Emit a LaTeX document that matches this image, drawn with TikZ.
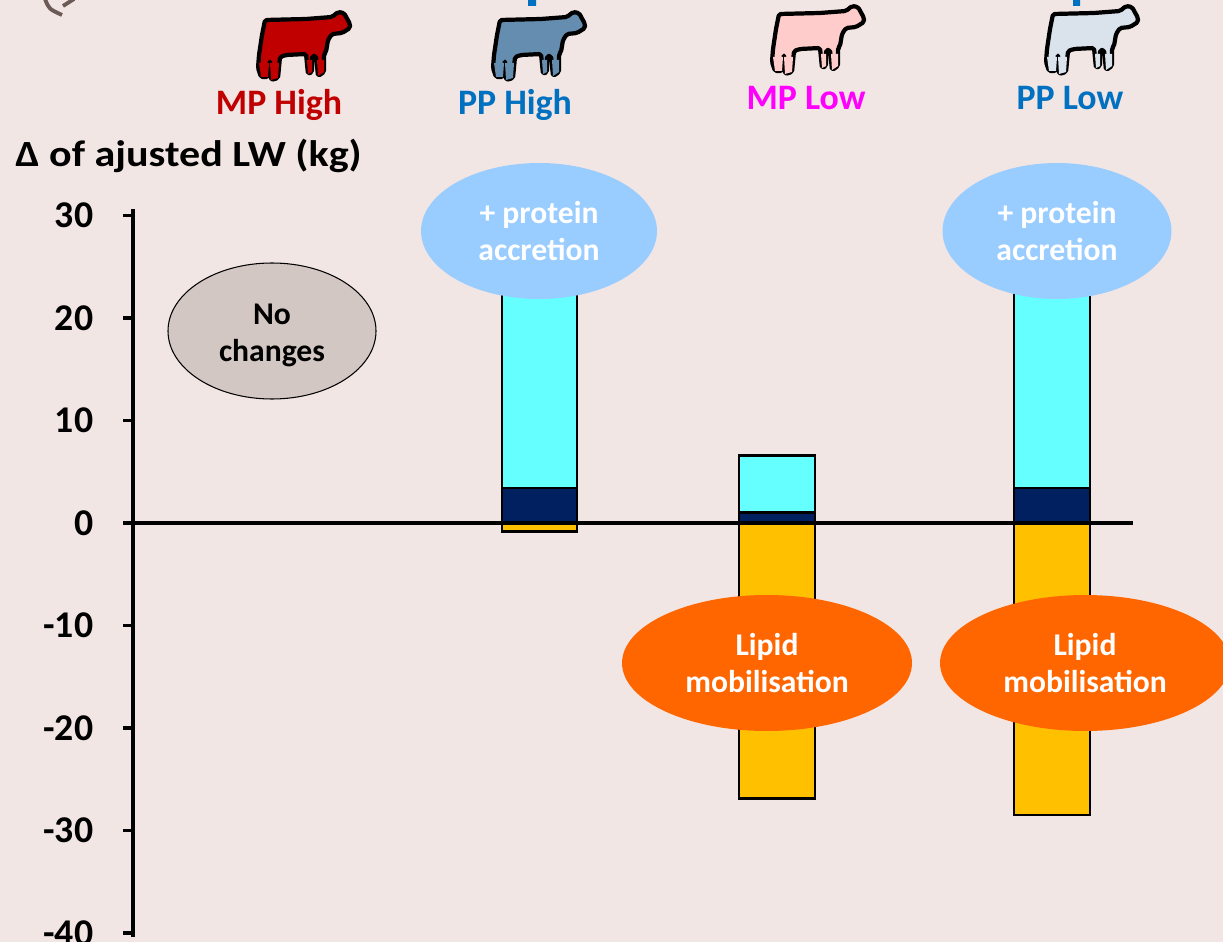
\documentclass[tikz,border=0pt]{standalone}
\usepackage{fontspec}
\setmainfont{Carlito}
\usetikzlibrary{shapes.geometric}
\definecolor{bgpink}{HTML}{F2E6E4}
\definecolor{mphigh}{HTML}{C00000}
\definecolor{pphigh}{HTML}{0070C0}
\definecolor{mplow}{HTML}{FF00FF}
\definecolor{cowblue}{HTML}{658DB0}
\definecolor{cowpink}{HTML}{FFCCCC}
\definecolor{cowgrey}{HTML}{DAE3EC}
\definecolor{barcyan}{HTML}{66FFFF}
\definecolor{barnavy}{HTML}{002060}
\definecolor{baryellow}{HTML}{FFC000}
\definecolor{blobblue}{HTML}{99CCFF}
\definecolor{bloborange}{HTML}{FF6600}
\definecolor{blobgrey}{HTML}{D3C7C3}
\definecolor{arcbrown}{HTML}{6B5A55}

\tikzset{
  pics/cow/.style={code={
    \draw[line width=2.4pt, line join=round, rounded corners=1pt, pic actions]
      (9,10) -- (50,9) -- (76,7) -- (82,2) -- (88,3) -- (94,14) -- (94,18) -- (86,23) -- (76,24) -- (72,30) -- (70,42) -- (68,44) -- (68,62) -- (62,66) -- (60,46) -- (56,46) -- (56,62) -- (52,64) -- (50,44) -- (30,45) -- (24,47) -- (22,68) -- (15,70) -- (14,50) -- (12,67) -- (5,67) -- (2,58) -- (3,45) -- (6,25) -- cycle;
    \fill (68,50) -- (68,62) -- (62,66) -- (61,50) -- cycle (56,50) -- (56,62) -- (52,64) -- (51,50) -- cycle
      (23,53) -- (22,68) -- (15,70) -- (14,53) -- cycle (13,53) -- (12,67) -- (5,67) -- (3,53) -- cycle;
  }}
}

\begin{document}
\begin{tikzpicture}[x=0.02cm, y=-0.02cm,
  axis/.style={line width=2pt},
  tick/.style={font=\fontsize{21.5}{25}\selectfont\bfseries, anchor=east, inner sep=0pt},
  cat/.style={font=\fontsize{20.4}{24}\selectfont\bfseries, anchor=base, inner sep=0pt},
  bar/.style={draw, line width=1.5pt},
  blob/.style={ellipse, inner sep=0pt, align=center, font=\fontsize{18}{21}\selectfont\bfseries, minimum height=2.72cm}]
	\fill[bgpink] (0,0) rectangle (1223,942);
	\useasboundingbox (0,0) rectangle (1223,942);
	% bits cut off at the top
	\draw[arcbrown, line width=2.2pt] (45,-1) .. controls (49,9) .. (62,15) (63,6) -- (74,-1);
	\fill[pphigh] (528,0) rectangle (536,6) (1073,0) rectangle (1080,6);
	\pic[fill=mphigh] at (256,10) {cow};
	\pic[fill=cowblue] at (491,10) {cow};
	\pic[fill=cowpink] at (770,4) {cow};
	\pic[fill=cowgrey] at (1044,4) {cow};
	\node[cat, text=mphigh] (mph) at (279,115) {MP High};
	\node[cat, text=pphigh] (pph) at (515,115) {PP High};
	\node[cat, text=mplow] (mpl) at (806,110) {MP Low};
	\node[cat, text=pphigh] (ppl) at (1070,110) {PP Low};
	\node[font=\fontsize{21}{25}\selectfont\bfseries, anchor=base west, inner sep=0pt, xscale=1.14, transform shape] (ylab) at (15,167) {Δ of ajusted LW (kg)};
	\begin{scope}[shift={(0,523)}, y=0.205cm]
		\draw[axis] (133,30.6) -- (133,-40.4);
		\foreach \v in {30,20,...,-40}
			\draw[axis] (123,\v) -- (133,\v) (95,\v) node[tick] (tk\v) {\v};
		\draw[bar, fill=baryellow] (502,0) rectangle (577,-0.8);
		\draw[bar, fill=barnavy] (502,0) rectangle (577,3.4);
		\draw[bar, fill=barcyan] (502,3.4) rectangle (577,25);
		\draw[bar, fill=baryellow] (739,0) rectangle (815,-26.9);
		\draw[bar, fill=barnavy] (739,0) rectangle (815,1);
		\draw[bar, fill=barcyan] (739,1) rectangle (815,6.6);
		\draw[bar, fill=baryellow] (1014,0) rectangle (1090,-28.5);
		\draw[bar, fill=barnavy] (1014,0) rectangle (1090,3.4);
		\draw[bar, fill=barcyan] (1014,3.4) rectangle (1090,25);
		\draw[axis] (133,0) -- (1133,0);
	\end{scope}
	\node[blob, fill=blobblue, text=white, minimum width=4.72cm] (prot1) at (539,231) {+ protein\\accretion};
	\node[blob, fill=blobblue, text=white, minimum width=4.58cm] (prot2) at (1057,231) {+ protein\\accretion};
	\draw[fill=blobgrey, line width=0.6pt] (272,331) ellipse [x radius=104, y radius=68];
	\node[blob, text=black] (same) at (272,335) {No\\changes};
	\node[blob, fill=bloborange, text=white, minimum width=5.8cm] (lip1) at (767,663) {Lipid\\mobilisation};
	\node[blob, fill=bloborange, text=white, minimum width=5.8cm] (lip2) at (1085,663) {Lipid\\mobilisation};
\end{tikzpicture}
\end{document}
